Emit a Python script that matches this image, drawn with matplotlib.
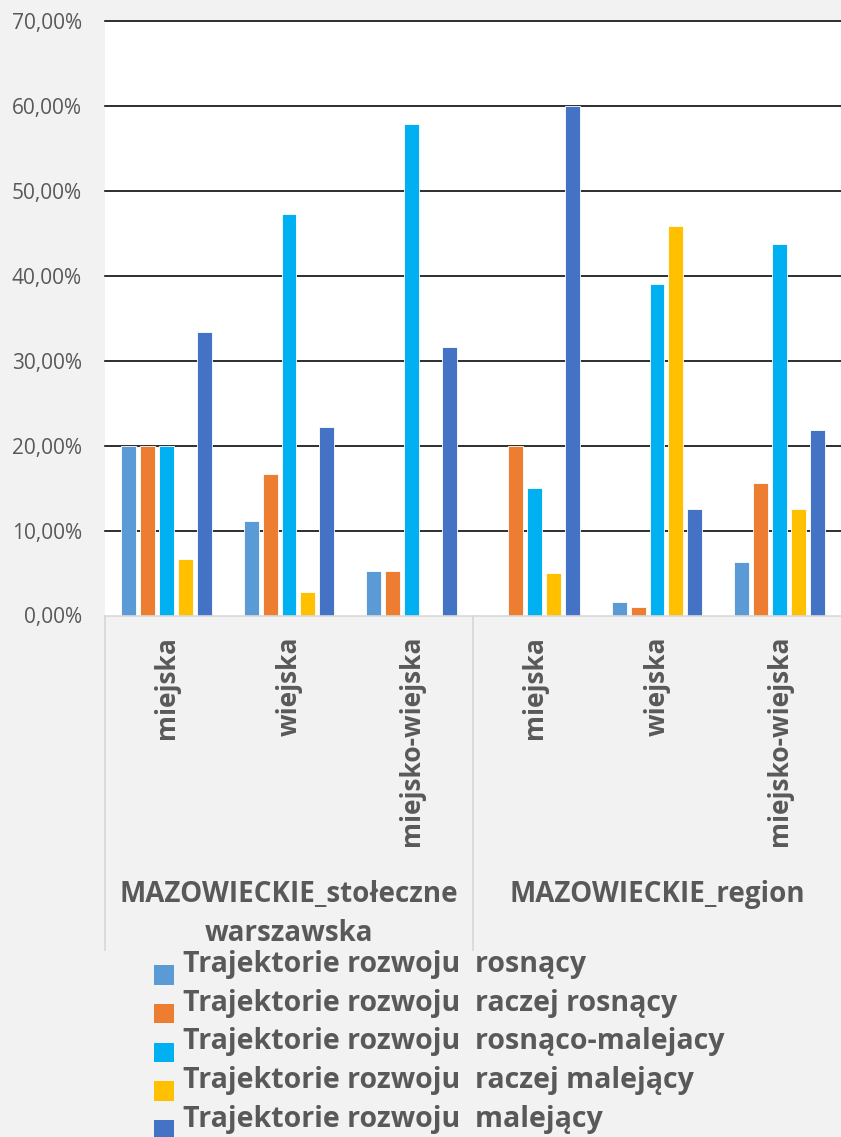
import numpy as np
import matplotlib.pyplot as plt
from matplotlib.patches import Rectangle

plt.rcParams['font.family'] = ['Open Sans', 'DejaVu Sans']

# data (percent)
groups = ['MAZOWIECKIE_stołeczne\nwarszawska', 'MAZOWIECKIE_region']
categories = ['miejska', 'wiejska', 'miejsko-wiejska',
              'miejska', 'wiejska', 'miejsko-wiejska']
series = ['Trajektorie rozwoju  rosnący',
          'Trajektorie rozwoju  raczej rosnący',
          'Trajektorie rozwoju  rosnąco-malejacy',
          'Trajektorie rozwoju  raczej malejący',
          'Trajektorie rozwoju  malejący']
rosnacy          = [20.00, 11.11,  5.26,  0.00,  1.56,  6.25]
raczej_rosnacy   = [20.00, 16.67,  5.26, 20.00,  1.04, 15.63]
rosnaco_malejacy = [20.00, 47.22, 57.89, 15.00, 39.06, 43.75]
raczej_malejacy  = [ 6.67,  2.78,  0.00,  5.00, 45.83, 12.50]
malejacy         = [33.33, 22.22, 31.58, 60.00, 12.50, 21.88]
values = [rosnacy, raczej_rosnacy, rosnaco_malejacy, raczej_malejacy, malejacy]
colors = ['#5B9BD5', '#ED7D31', '#00B0F0', '#FFC000', '#4472C4']
yticks = [0, 10, 20, 30, 40, 50, 60, 70]

W, H = 841, 1137
txt = '#595959'
sep = '#D9D9D9'

fig = plt.figure(figsize=(W / 100, H / 100), dpi=100, facecolor='#F2F2F2')
top, bottom, left = 21, 615.5, 105
ax = fig.add_axes([left / W, 1 - bottom / H, 1 - left / W, (bottom - top) / H])
ax.set_facecolor('white')

n = len(categories)
x = np.arange(n)
bw = 15 / 122.67
step = 19 / 122.67
for k, (vals, c) in enumerate(zip(values, colors)):
    ax.bar(x + (k - 2) * step, vals, width=bw, color=c,
           edgecolor='white', linewidth=0.6, zorder=3)

ax.set_xlim(-0.5, n - 0.5)
ax.set_ylim(0, 70)
for s in ax.spines.values():
    s.set_visible(False)

# gridlines
for t in yticks[1:]:
    ax.axhline(t, color='black', lw=1.15, zorder=1, clip_on=False)
ax.axhline(0, color=sep, lw=1.2, zorder=4, clip_on=False)

ax.set_yticks(yticks)
ax.set_yticklabels([f'{t},00%' for t in yticks], fontsize=15, color=txt)
ax.tick_params(axis='y', length=0, pad=16.5)
ax.set_xticks([])

# category axis labels
ph = bottom - top
tr = ax.get_xaxis_transform()
for i, c in enumerate(categories):
    ax.text(i, -(636 - bottom) / ph, c, rotation=90, ha='center', va='top',
            fontsize=19, fontweight='bold', color=txt, transform=tr)

# separators
y_end = -(950 - bottom) / ph
for xs in [-0.5, 2.5]:
    ax.plot([xs, xs], [0, y_end], color=sep, lw=1.3, transform=tr, clip_on=False)

# group labels
for g, gname in enumerate(groups):
    for j, line in enumerate(gname.split('\n')):
        ax.text(g * 3 + 1, -(902 + j * 39 - bottom) / ph, line, ha='center',
                va='baseline', fontsize=20, fontweight='bold', color=txt,
                transform=tr)

# legend
for k, (name, c) in enumerate(zip(series, colors)):
    base = 972 + k * 38.75
    fig.patches.append(Rectangle((154 / W, 1 - (base + 12.5) / H), 20 / W, 19.5 / H,
                                 transform=fig.transFigure, facecolor=c, edgecolor='none'))
    fig.text(183 / W, 1 - base / H, name, ha='left', va='baseline',
             fontsize=20.5, fontweight='bold', color=txt)

fig.savefig('out.png', dpi=100, facecolor=fig.get_facecolor())
